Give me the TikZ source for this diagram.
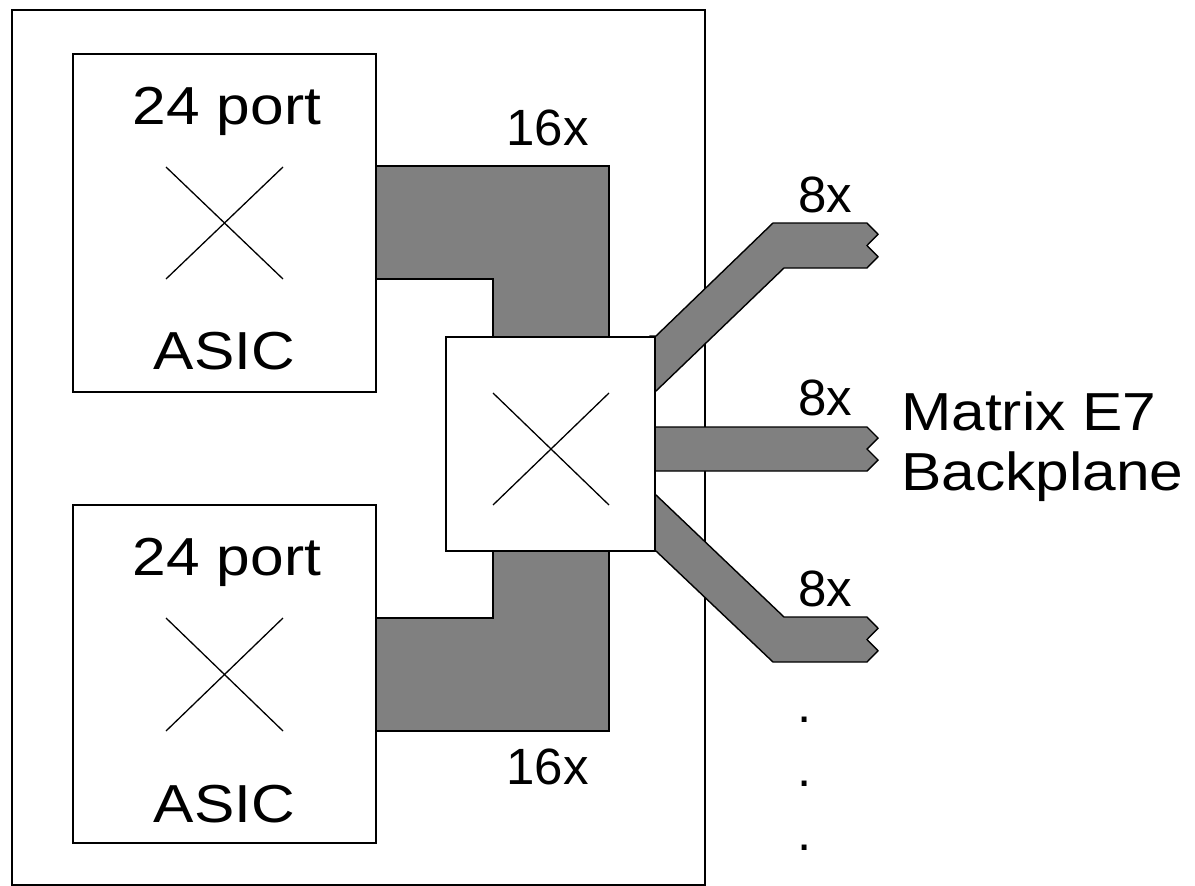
\documentclass[tikz,border=0pt]{standalone}
\usepackage{fontspec}
\setmainfont{Liberation Sans}
\newfontfamily\widesans[FakeStretch=1.13]{Liberation Sans}
\begin{document}
\begin{tikzpicture}[x=1pt,y=-1pt,
  boxline/.style={draw=black,line width=1.6pt},
  whitebox/.style={boxline,fill=white,rectangle,inner sep=0pt,outer sep=0pt},
  bus/.style={draw=black,line width=1.4pt,fill=busgrey,line join=miter},
  xline/.style={draw=black,line width=1.3pt},
  bigtxt/.style={font=\widesans\fontsize{53.5}{64}\selectfont,inner sep=0pt,anchor=base},
  midtxt/.style={font=\fontsize{51}{61}\selectfont,inner sep=0pt,anchor=base},
]
\definecolor{busgrey}{HTML}{808080}
\useasboundingbox (0,0) rectangle (1195,886);
\fill[white] (0,0) rectangle (1195,886);
% outer board
\node[boxline,rectangle,inner sep=0pt,minimum width=693pt,minimum height=875pt,anchor=north west] (board) at (11,9) {};
% buses from ASICs to switch
\path[bus] (376,166) -- (609,166) -- (609,340) -- (493,340) -- (493,279) -- (376,279) -- cycle;
\path[bus] (493,546) -- (609,546) -- (609,731) -- (376,731) -- (376,618) -- (493,618) -- cycle;
% buses to backplane
\path[bus] (650,336) -- (656,336) -- (773,223) -- (867,223) -- (878,234.25) -- (867,245.5) -- (878,256.75) -- (867,268) -- (784,268) -- (656,391) -- (650,391) -- cycle;
\path[bus] (650,427) -- (867,427) -- (878,438) -- (867,449) -- (878,460) -- (867,471) -- (650,471) -- cycle;
\path[bus] (650,495) -- (656,495) -- (784,617) -- (867,617) -- (878,628.25) -- (867,639.5) -- (878,650.75) -- (867,662) -- (773,662) -- (656,551) -- (650,551) -- cycle;
% ASIC boxes
\node[whitebox,minimum width=303pt,minimum height=338pt,anchor=north west] (asicA) at (73,54) {};
\node[whitebox,minimum width=303pt,minimum height=338pt,anchor=north west] (asicB) at (73,505) {};
% switch
\node[whitebox,minimum width=209pt,minimum height=214pt,anchor=north west] (sw) at (446,337) {};
% crosses
\draw[xline] (166,167) -- (283,279) (166,279) -- (283,167);
\draw[xline] (166,618) -- (283,731) (166,731) -- (283,618);
\draw[xline] (493,393) -- (609,505) (493,505) -- (609,393);
% texts
\node[bigtxt] (pA) at (227,124) {24 port};
\node[bigtxt] (aA) at (224.5,369) {ASIC};
\node[bigtxt] (pB) at (227,575) {24 port};
\node[bigtxt] (aB) at (224.5,822) {ASIC};
\node[midtxt] (s1) at (547.5,145) {16x};
\node[midtxt] (s2) at (547.5,784) {16x};
\node[midtxt] (e1) at (825.5,212) {8x};
\node[midtxt] (e2) at (825.5,415) {8x};
\node[midtxt] (e3) at (825.5,606) {8x};
\node[bigtxt,anchor=base west] (mx) at (901,430) {Matrix E7};
\node[bigtxt,anchor=base west] (bp) at (901,490) {Backplane};
\node[midtxt] (d1) at (805,722) {.};
\node[midtxt] (d2) at (805,786) {.};
\node[midtxt] (d3) at (805,850) {.};
\end{tikzpicture}
\end{document}
